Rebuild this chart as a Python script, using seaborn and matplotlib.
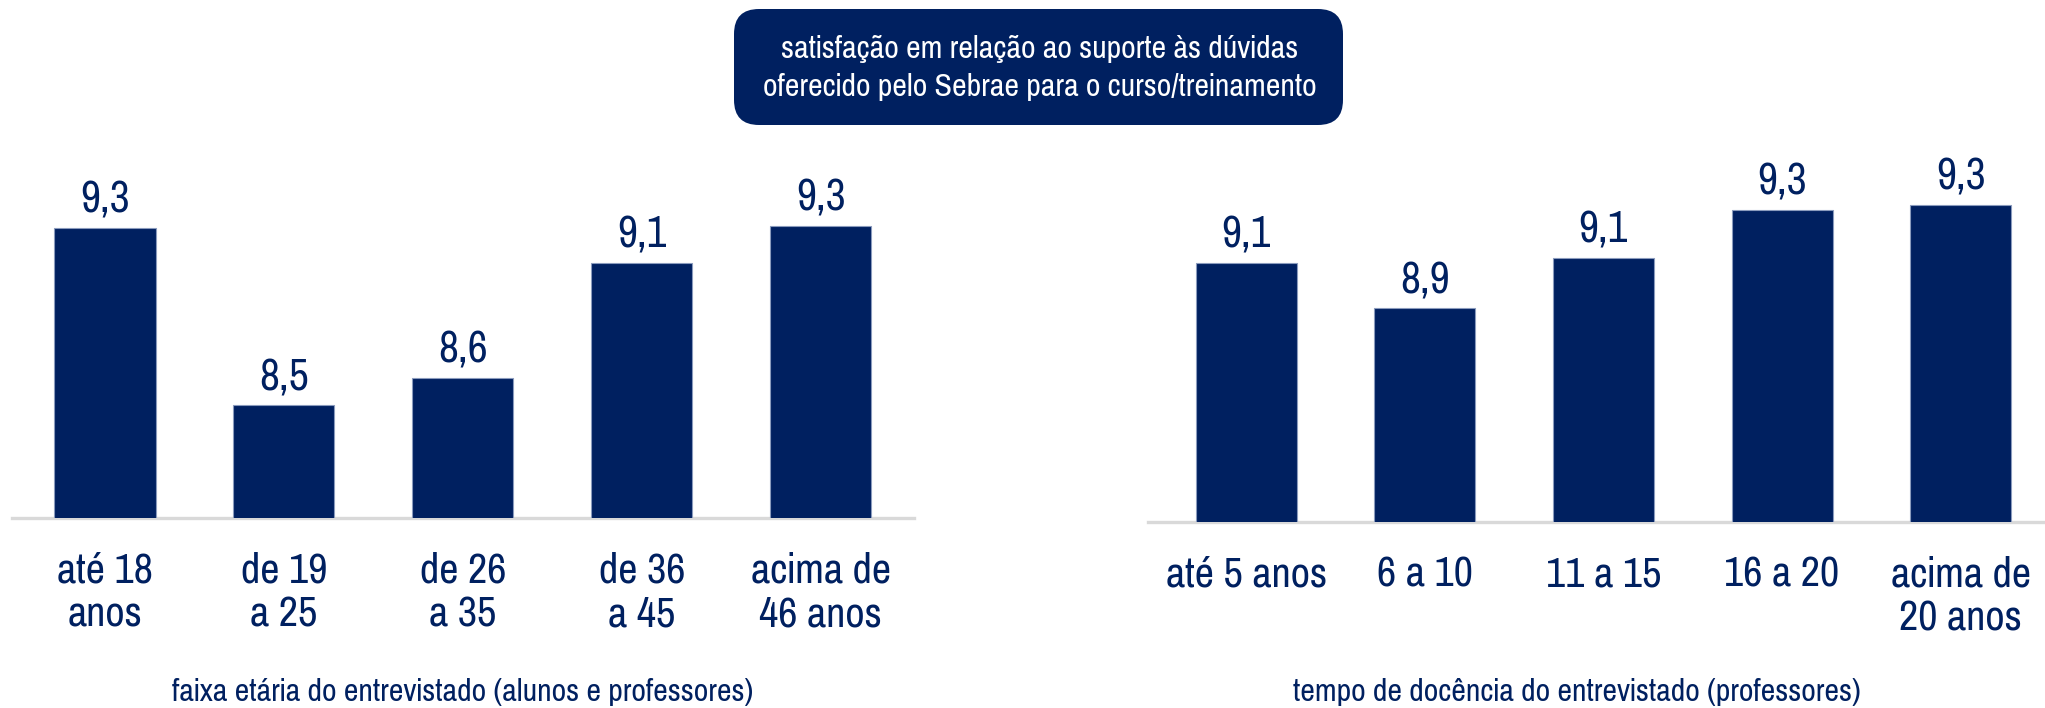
import matplotlib
matplotlib.use('Agg')
import matplotlib.pyplot as plt
from matplotlib.patches import FancyBboxPatch
import seaborn as sns

# data
faixa_labels = ['até 18\nanos', 'de 19\na 25', 'de 26\na 35', 'de 36\na 45', 'acima de\n46 anos']
faixa_values = [9.26, 8.49, 8.61, 9.11, 9.27]

docencia_labels = ['até 5 anos', '6 a 10', '11 a 15', '16 a 20', 'acima de\n20 anos']
docencia_values = [9.08, 8.89, 9.10, 9.30, 9.32]

title = 'satisfação em relação ao suporte às dúvidas\noferecido pelo Sebrae para o curso/treinamento'
xlabel_left = 'faixa etária do entrevistado (alunos e professores)'
xlabel_right = 'tempo de docência do entrevistado (professores)'

NAVY = '#002060'
W, H = 2045, 708

sns.set_style('white')
plt.rcParams['font.family'] = ['Pragati Narrow', 'Roboto Condensed', 'Archivo Narrow',
                               'Liberation Sans', 'DejaVu Sans']

fig = plt.figure(figsize=(W / 100, H / 100), dpi=100)


def px_axes(left, bottom, width, height):
    # pixel box (from top-left) -> figure fraction
    return fig.add_axes([left / W, (H - bottom) / H, width / W, height / H])


def draw_panel(ax, labels, values, xlim, ylim, xlabel, label_xy):
    sns.barplot(x=labels, y=values, order=labels, ax=ax, color=NAVY, saturation=1,
                width=0.565, edgecolor='#8a9bbd', linewidth=0.8, zorder=3)
    ax.set_xlim(*xlim)
    ax.set_ylim(*ylim)
    for s in ['left', 'right', 'top']:
        ax.spines[s].set_visible(False)
    ax.spines['bottom'].set_color('#d9d9d9')
    ax.spines['bottom'].set_linewidth(2.4)
    ax.spines['bottom'].set_zorder(2)
    ax.set_yticks([])
    ax.set_ylabel('')
    ax.tick_params(axis='x', length=0, pad=24, labelsize=33, labelcolor=NAVY)
    for t in ax.get_xticklabels():
        t.set_linespacing(1.2)
    for i, v in enumerate(values):
        ax.annotate(f'{v:.1f}'.replace('.', ','), (i, v), xytext=(0, 11),
                    textcoords='offset points', ha='center', va='baseline',
                    fontsize=34, color=NAVY, annotation_clip=False)
    ax.set_xlabel(xlabel, fontsize=25, color=NAVY)
    ax.xaxis.set_label_coords(*label_xy)


ax1 = px_axes(12, 518, 901.7, 418)
draw_panel(ax1, faixa_labels, faixa_values, (-0.52, 4.52), (8.0, 8.0 + 418 / 230),
           xlabel_left, (0.5, -0.383))

ax2 = px_axes(1148, 522, 910.9, 418)
draw_panel(ax2, docencia_labels, docencia_values, (-0.55, 4.55), (8.0, 8.0 + 418 / 240),
           xlabel_right, ((1577 - 1148) / 910.9, -0.374))

# title box
r = 25
box = FancyBboxPatch((734 / W, (H - 125) / H), (1343 - 734) / W, (125 - 9) / H,
                     boxstyle=f'round,pad=0,rounding_size={r / W}',
                     mutation_aspect=W / H, transform=fig.transFigure,
                     facecolor=NAVY, edgecolor='none')
fig.patches.append(box)
fig.text(1040 / W, 1 - 68 / H, title, ha='center', va='center', color='white',
         fontsize=25, linespacing=1.4)

fig.savefig('out.png', dpi=100)
